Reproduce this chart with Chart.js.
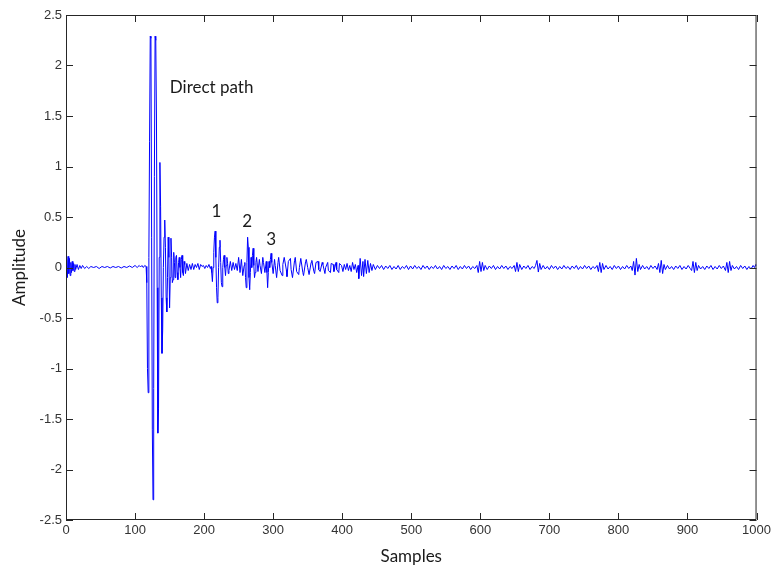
<!DOCTYPE html>
<html>
<head>
<meta charset="utf-8">
<script src="https://cdn.jsdelivr.net/npm/chart.js@4/dist/chart.umd.min.js"></script>
<style>
html,body{margin:0;padding:0;background:#fff;}
canvas{display:block;}
</style>
</head>
<body>
<canvas id="c" width="774" height="572"></canvas>
<script>
// ---- Data (sample index, amplitude) ----
const preSignal = [
 [0,0.0],[1,0.08],[2,-0.1],[3,0.11],[4,-0.06],[5,0.09],[6,-0.08],[7,0.05],[8,-0.05],[9,0.06],
 [10,-0.03],[11,0.04],[12,-0.04],[13,0.03],[14,-0.02],[16,0.03],[18,-0.02],[20,0.02],[22,-0.01],
 [24,0.02],[27,-0.01],[30,0.01],[33,-0.01],[36,0.01],[40,0.0],[44,0.01],[48,-0.01],[52,0.01],
 [56,0.0],[60,0.01],[64,-0.005],[68,0.01],[72,0.0],[76,0.01],[80,-0.005],[84,0.01],[88,0.0],
 [92,0.015],[96,0.0],[100,0.02],[103,0.0],[106,0.02],[108,0.005],[110,0.02],[112,0.0],[114,0.02],[116,0.01]
];
const directPath = [
 [117,-0.15],[118,-1.0],[119,-1.24],[120,0.1],[121,1.25],[122,2.29],[123,2.27],[124,0.3],
 [125,-1.6],[126,-2.3],[127,-1.2],[128,0.9],[129,2.29],[130,2.25],[131,1.49],[132,-0.2],
 [133,-1.64],[134,-1.4],[135,0.1],[136,1.04],[137,0.6],[138,-0.3],[139,-0.85],[140,-0.62],
 [141,0.0],[142,0.3],[143,0.47],[144,0.2],[145,-0.3],[146,-0.44],[147,-0.1],[148,0.3],
 [149,0.1],[150,-0.4],[151,-0.1],[152,0.29],[153,0.1],[154,-0.15],[155,-0.12],[156,0.15],
 [157,0.05],[158,-0.1],[159,0.1],[160,0.12],[161,-0.05],[162,-0.12],[163,0.05],[164,0.1],
 [165,0.0],[166,-0.1],[167,0.08],[168,0.12],[169,-0.05],[170,-0.08],[171,0.06],[172,0.03],
 [173,-0.06],[175,0.04],[177,-0.03],[179,0.03],[181,-0.02],[183,0.04],[185,-0.02],[187,0.03],
 [189,0.0],[191,0.04],[193,-0.02],[195,0.03],[197,0.01],[199,0.02],[201,-0.01],[203,0.02],
 [205,0.0],[207,0.03],[209,-0.01],[210,0.01]
];
const echoes = [
 [211,-0.05],[212,-0.14],[213,0.0],[214,0.15],[215,0.3],[216,0.36],[217,0.1],[218,-0.2],
 [219,-0.35],[220,-0.3],[221,0.0],[222,0.2],[223,0.27],[224,0.05],[225,-0.15],[226,-0.19],
 [227,0.0],[228,0.08],[229,0.12],[230,0.0],[231,-0.08],[232,0.02],[233,0.1],[234,0.04],
 [235,-0.06],[236,-0.03],[238,0.06],[240,-0.03],[242,0.05],[244,-0.02],[246,0.04],[248,-0.03],
 [250,0.1],[252,-0.05],[254,0.08],[256,-0.08],[258,0.02],[259,0.05],[260,-0.1],[261,-0.2],
 [262,0.05],[263,0.3],[264,0.2],[265,-0.1],[266,-0.22],[267,-0.05],[268,0.1],[269,0.0],
 [270,0.12],[271,0.19],[272,0.02],[273,-0.1],[274,-0.05],[275,0.05],[276,0.1],[278,-0.04],
 [280,0.08],[281,0.02],[283,-0.06],[285,0.1],[286,0.05],[288,-0.05],[290,0.06],[291,-0.05],
 [292,-0.2],[293,-0.05],[294,0.06],[295,0.0],[296,0.08],[297,0.14],[298,0.05],[300,-0.06],
 [302,0.08],[303,0.02],[305,-0.1],[307,0.05],[308,0.1],[310,-0.03],[313,-0.08],[314,0.03],
 [316,0.1],[319,-0.02],[320,-0.09],[322,0.06],[325,0.09],[326,-0.02],[328,-0.1],[331,0.07],
 [332,0.1],[334,-0.04],[337,-0.07],[338,0.0],[340,0.09],[343,-0.05],[344,-0.08],[347,0.06],
 [348,0.08],[350,0.0],[352,-0.07],[355,0.05],[356,0.07],[359,-0.04],[360,-0.06],[362,0.05],
 [365,0.06],[366,-0.02],[368,-0.04],[371,0.05],[372,0.03],[375,-0.06],[376,0.0],[379,0.05],
 [380,-0.03],[383,-0.05],[384,0.04],[387,0.03],[388,-0.04],[391,0.05],[392,-0.02],[395,-0.05],
 [396,0.04],[399,0.02],[401,-0.04],[403,0.03],[405,-0.02],[407,0.04],[409,-0.03],[411,0.02],
 [413,-0.04],[415,0.05],[417,-0.02],[419,0.03],[421,-0.05],[423,0.02],[424,-0.11],[426,0.09],
 [428,-0.08],[430,0.06],[431,-0.09],[433,0.08],[435,-0.06],[437,0.07],[439,-0.05],[441,0.04],
 [443,-0.03],[445,0.03]
];
const tail = [
 [448,-0.02],[451,0.02],[454,-0.01],[457,0.02],[460,-0.02],[463,0.015],[466,-0.01],[469,0.02],
 [472,-0.02],[475,0.01],[478,-0.015],[481,0.02],[484,-0.02],[487,0.01],[490,-0.01],[493,0.02],
 [496,-0.02],[499,0.015],[502,-0.015],[505,0.02],[508,-0.01],[511,0.01],[514,-0.02],[517,0.02],
 [520,-0.01],[523,0.015],[526,-0.02],[529,0.01],[532,-0.01],[535,0.02],[538,-0.015],[541,0.01],
 [544,-0.02],[547,0.02],[550,-0.01],[553,0.01],[556,-0.02],[559,0.015],[562,-0.01],[565,0.02],
 [568,-0.02],[571,0.01],[574,-0.015],[577,0.02],[580,-0.01],[583,0.015],[586,-0.02],[589,0.01],
 [592,-0.01],[595,0.02],[597,-0.05],[599,0.06],[601,-0.04],[603,0.05],[605,-0.03],[607,0.02],
 [610,-0.02],[613,0.015],[616,-0.01],[619,0.02],[622,-0.02],[625,0.01],[628,-0.015],[631,0.02],
 [634,-0.01],[637,0.015],[640,-0.02],[643,0.01],[646,-0.01],[649,0.02],[651,-0.04],[653,0.05],
 [655,-0.04],[657,0.03],[660,-0.02],[663,0.015],[666,-0.01],[669,0.02],[672,-0.02],[675,0.01],
 [678,-0.01],[680,0.02],[682,0.07],[684,-0.045],[686,0.04],[688,-0.02],[691,0.02],[694,-0.015],
 [697,0.01],[700,-0.02],[703,0.02],[706,-0.01],[709,0.015],[712,-0.02],[715,0.01],[718,-0.015],
 [721,0.02],[724,-0.01],[727,0.01],[730,-0.02],[733,0.015],[736,-0.01],[739,0.02],[742,-0.02],
 [745,0.01],[748,-0.015],[751,0.02],[754,-0.01],[757,0.015],[760,-0.02],[763,0.01],[766,-0.01],
 [769,0.02],[771,-0.04],[773,0.05],[775,-0.05],[777,0.04],[779,-0.02],[782,0.02],[785,-0.015],
 [788,0.01],[791,-0.02],[794,0.02],[797,-0.01],[800,0.015],[803,-0.02],[806,0.01],[809,-0.015],
 [812,0.02],[815,-0.01],[818,0.015],[820,-0.03],[822,0.06],[824,-0.075],[826,0.09],[828,-0.04],
 [830,0.03],[832,-0.02],[835,0.02],[838,-0.015],[841,0.01],[844,-0.02],[847,0.02],[850,-0.01],
 [853,0.015],[856,-0.02],[858,0.04],[860,-0.05],[862,0.07],[864,-0.06],[866,0.03],[868,-0.02],
 [871,0.02],[874,-0.015],[877,0.01],[880,-0.02],[883,0.015],[886,-0.01],[889,0.02],[892,-0.02],
 [895,0.01],[898,-0.015],[901,0.02],[904,-0.01],[906,-0.03],[908,0.06],[910,-0.05],[912,0.05],
 [914,-0.03],[916,0.02],[919,-0.015],[922,0.01],[925,-0.02],[928,0.015],[931,-0.01],[934,0.02],
 [937,-0.02],[940,0.01],[943,-0.015],[946,0.02],[949,-0.01],[952,0.015],[955,-0.03],[957,0.05],
 [959,-0.05],[961,0.06],[963,-0.03],[965,0.02],[968,-0.015],[971,0.01],[974,-0.02],[977,0.02],
 [980,-0.01],[983,0.015],[986,-0.02],[989,0.01],[992,-0.015],[995,0.02],[997,0.0],[999,0.03],[1000,0.02]
];
const xTicks = [0,100,200,300,400,500,600,700,800,900,1000];
const yTicks = [-2.5,-2,-1.5,-1,-0.5,0,0.5,1,1.5,2,2.5];
const annotations = [
 {text:'Direct path', x:150.3, y:1.78, align:'left'},
 {text:'1', x:217.8, y:0.55, align:'center'},
 {text:'2', x:262.4, y:0.46, align:'center'},
 {text:'3', x:297, y:0.28, align:'center'}
];

const points = [...preSignal, ...directPath, ...echoes, ...tail].map(p => ({x:p[0], y:p[1]}));

const boxPlugin = {
  id:'box',
  afterDraw(chart){
    const ctx = chart.ctx;
    const {left,right,top,bottom} = chart.chartArea;
    const xs = chart.scales.x, ys = chart.scales.y;
    ctx.save();
    ctx.strokeStyle = '#262626';
    ctx.lineWidth = 1;
    ctx.beginPath();
    ctx.rect(left+0.5, top+0.5, right-left-1, bottom-top-1);
    ctx.stroke();
    ctx.beginPath();
    const tl = 7;
    xTicks.forEach(v => {
      const px = Math.round(xs.getPixelForValue(v)) + 0.5;
      ctx.moveTo(px, bottom); ctx.lineTo(px, bottom - tl);
      ctx.moveTo(px, top); ctx.lineTo(px, top + tl);
    });
    yTicks.forEach(v => {
      const py = Math.round(ys.getPixelForValue(v)) + 0.5;
      ctx.moveTo(left, py); ctx.lineTo(left + tl, py);
      ctx.moveTo(right, py); ctx.lineTo(right - tl, py);
    });
    ctx.stroke();
    ctx.fillStyle = '#1a1a1a';
    ctx.font = '17px Lato, "Open Sans", sans-serif';
    ctx.textBaseline = 'middle';
    annotations.forEach(a => {
      ctx.textAlign = a.align;
      ctx.fillText(a.text, xs.getPixelForValue(a.x), ys.getPixelForValue(a.y));
    });
    ctx.restore();
  }
};

new Chart(document.getElementById('c'), {
  type:'line',
  data:{ datasets:[{
    data: points,
    borderColor:'#0000ff',
    borderWidth:1,
    pointRadius:0,
    tension:0,
    fill:false
  }]},
  options:{
    responsive:false,
    devicePixelRatio:1,
    animation:false,
    layout:{ padding:{ top:15, right:12, bottom:0, left:0 } },
    plugins:{ legend:{display:false}, tooltip:{enabled:false} },
    scales:{
      x:{
        type:'linear', min:0, max:1000,
        afterBuildTicks: s => { s.ticks = xTicks.map(v => ({value:v})); },
        afterFit: s => { s.height = 52; },
        grid:{ display:false, drawTicks:false },
        border:{ display:false },
        ticks:{ padding:3, color:'#333', font:{ family:'Liberation Sans', size:13 }, maxRotation:0,
                callback: v => String(v) },
        title:{ display:true, text:'Samples', color:'#1a1a1a', font:{ family:'Lato', size:17 }, padding:{ top:0, bottom:5 } }
      },
      y:{
        type:'linear', min:-2.5, max:2.5,
        afterBuildTicks: s => { s.ticks = yTicks.map(v => ({value:v})); },
        afterFit: s => { s.width = 66; },
        grid:{ display:false, drawTicks:false },
        border:{ display:false },
        ticks:{ padding:4, color:'#333', font:{ family:'Liberation Sans', size:13 },
                callback: v => String(v) },
        title:{ display:true, text:'Amplitude', color:'#1a1a1a', font:{ family:'Lato', size:17 }, padding:{ top:9, bottom:0 } }
      }
    }
  },
  plugins:[boxPlugin]
});
</script>
</body>
</html>
